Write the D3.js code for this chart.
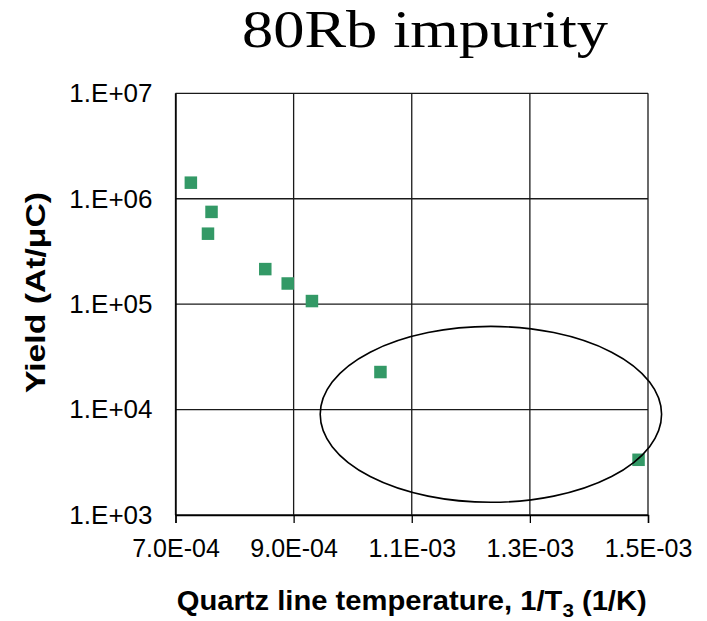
<!DOCTYPE html>
<html>
<head>
<meta charset="utf-8">
<script src="https://cdn.jsdelivr.net/npm/d3@7"></script>
<style>
  body { margin: 0; background: #ffffff; }
  svg { display: block; }
</style>
</head>
<body>
<div id="chart"></div>
<script>
// Data.
const titleText = '80Rb impurity';
const xLabelText = 'Quartz line temperature, 1/T';
const yLabelText = 'Yield (At/\u03bcC)';

const xValues = [7.26e-4, 7.61e-4, 7.55e-4, 8.52e-4, 8.90e-4, 9.31e-4, 1.047e-3, 1.484e-3];
const yValues = [1.42e6, 7.5e5, 4.66e5, 2.15e5, 1.57e5, 1.07e5, 2.27e4, 3.34e3];

const xTicks = [7e-4, 9e-4, 1.1e-3, 1.3e-3, 1.5e-3];
const xTickLabels = ['7.0E-04', '9.0E-04', '1.1E-03', '1.3E-03', '1.5E-03'];
const yTicks = [1e3, 1e4, 1e5, 1e6, 1e7];
const yTickLabels = ['1.E+03', '1.E+04', '1.E+05', '1.E+06', '1.E+07'];

// Ellipse annotation (data coords: x range, y range).
const ellipseX = [9.45e-4, 1.523e-3];
const ellipseY = [1.32e3, 6.15e4];

// Layout.
const size = {width: 707, height: 621};
const plot = {left: 175.5, right: 648, top: 93.3, bottom: 515};

const svg = d3.select('#chart')
      .append('svg')
      .attr('width', size.width)
      .attr('height', size.height);

const x = d3.scaleLinear()
      .domain([7e-4, 1.5e-3])
      .range([plot.left, plot.right]);

const y = d3.scaleLog()
      .domain([1e3, 1e7])
      .range([plot.bottom, plot.top]);

// Gridlines.
svg.append('g')
  .selectAll('line')
  .data(yTicks)
  .enter()
  .append('line')
  .attr('x1', plot.left)
  .attr('x2', plot.right)
  .attr('y1', (d) => y(d))
  .attr('y2', (d) => y(d))
  .style('stroke', '#1a1a1a')
  .style('stroke-width', 1.3);

svg.append('g')
  .selectAll('line')
  .data(xTicks)
  .enter()
  .append('line')
  .attr('x1', (d) => x(d))
  .attr('x2', (d) => x(d))
  .attr('y1', plot.top)
  .attr('y2', plot.bottom)
  .style('stroke', '#1a1a1a')
  .style('stroke-width', 1.3);

// Axes.
const xAxis = d3.axisBottom(x)
      .tickValues(xTicks)
      .tickSize(8)
      .tickFormat((d, i) => xTickLabels[i]);

const gx = svg.append('g')
      .attr('transform', 'translate(0,' + plot.bottom + ')')
      .call(xAxis);
gx.select('.domain').style('stroke', '#000').style('stroke-width', 1.4);
gx.selectAll('.tick line').style('stroke', '#000').style('stroke-width', 1.3);
gx.selectAll('.tick text')
  .attr('y', 0)
  .attr('dy', 0)
  .attr('transform', 'translate(0,42)')
  .style('font-family', '"Liberation Sans", Arial, sans-serif')
  .style('font-size', '25px')
  .style('fill', '#000');

const yAxis = d3.axisLeft(y)
      .tickValues(yTicks)
      .tickSize(0)
      .tickPadding(23)
      .tickFormat((d, i) => yTickLabels[i]);

const gy = svg.append('g')
      .attr('transform', 'translate(' + plot.left + ',0)')
      .call(yAxis);
gy.select('.domain').style('stroke', '#000').style('stroke-width', 1.4);
gy.selectAll('.tick text')
  .style('font-family', '"Liberation Sans", Arial, sans-serif')
  .style('font-size', '26px')
  .style('fill', '#000');

// Points.
const sq = 12.5;
svg.append('g')
  .selectAll('rect')
  .data(xValues)
  .enter()
  .append('rect')
  .attr('x', (d) => x(d) - sq / 2)
  .attr('y', (d, i) => y(yValues[i]) - sq / 2)
  .attr('width', sq)
  .attr('height', sq)
  .style('fill', '#339966');

// Ellipse.
svg.append('ellipse')
  .attr('cx', (x(ellipseX[0]) + x(ellipseX[1])) / 2)
  .attr('cy', (y(ellipseY[0]) + y(ellipseY[1])) / 2)
  .attr('rx', (x(ellipseX[1]) - x(ellipseX[0])) / 2)
  .attr('ry', (y(ellipseY[0]) - y(ellipseY[1])) / 2)
  .style('fill', 'none')
  .style('stroke', '#000')
  .style('stroke-width', 1.6);

// Title.
svg.append('text')
  .attr('x', 425)
  .attr('y', 46.5)
  .attr('text-anchor', 'middle')
  .attr('textLength', 366)
  .attr('lengthAdjust', 'spacingAndGlyphs')
  .style('font-family', '"Liberation Serif", "Times New Roman", serif')
  .style('font-size', '53px')
  .text(titleText);

// X label with subscript.
const xl = svg.append('text')
      .attr('x', (plot.left + plot.right) / 2)
      .attr('y', 610)
      .attr('text-anchor', 'middle')
      .attr('textLength', 470)
      .attr('lengthAdjust', 'spacingAndGlyphs')
      .style('font-family', '"Liberation Sans", Arial, sans-serif')
      .style('font-weight', 'bold')
      .style('font-size', '27px');
xl.append('tspan').text(xLabelText);
xl.append('tspan').attr('dy', 7).style('font-size', '19px').text('3');
xl.append('tspan').attr('dy', -7).text(' (1/K)');

// Y label.
svg.append('text')
  .attr('transform', 'translate(44.5,292.5) rotate(-90)')
  .attr('text-anchor', 'middle')
  .attr('textLength', 201)
  .attr('lengthAdjust', 'spacingAndGlyphs')
  .style('font-family', '"Liberation Sans", Arial, sans-serif')
  .style('font-weight', 'bold')
  .style('font-size', '28px')
  .text(yLabelText);
</script>
</body>
</html>
